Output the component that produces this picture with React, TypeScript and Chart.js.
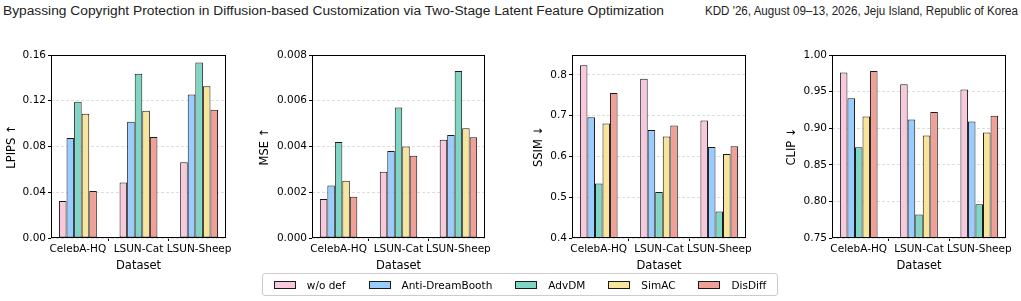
import React, { useEffect, useRef } from "react";
import { Chart, registerables } from "chart.js";

Chart.register(...registerables);

// ---------------- data ----------------
const CATEGORIES = ["CelebA-HQ", "LSUN-Cat", "LSUN-Sheep"];
const METHODS = ["w/o def", "Anti-DreamBooth", "AdvDM", "SimAC", "DisDiff"];
const METHOD_COLORS = ["#F8C8DC", "#99CCFF", "#80D6C4", "#F7E59B", "#F0A096"];

const LPIPS_WO = [0.0324, 0.0485, 0.0663];
const LPIPS_ANTI = [0.0874, 0.1017, 0.1254];
const LPIPS_ADV = [0.1192, 0.1437, 0.1534];
const LPIPS_SIMAC = [0.1086, 0.1112, 0.1327];
const LPIPS_DISDIFF = [0.0412, 0.0883, 0.1122];

const MSE_WO = [0.0017, 0.0029, 0.0043];
const MSE_ANTI = [0.0023, 0.0038, 0.0045];
const MSE_ADV = [0.0042, 0.0057, 0.0073];
const MSE_SIMAC = [0.0025, 0.004, 0.0048];
const MSE_DISDIFF = [0.0018, 0.0036, 0.0044];

const SSIM_WO = [0.824, 0.791, 0.688];
const SSIM_ANTI = [0.696, 0.665, 0.623];
const SSIM_ADV = [0.534, 0.513, 0.465];
const SSIM_SIMAC = [0.681, 0.649, 0.606];
const SSIM_DISDIFF = [0.756, 0.676, 0.625];

const CLIP_WO = [0.976, 0.96, 0.953];
const CLIP_ANTI = [0.941, 0.912, 0.909];
const CLIP_ADV = [0.874, 0.782, 0.796];
const CLIP_SIMAC = [0.916, 0.89, 0.894];
const CLIP_DISDIFF = [0.978, 0.922, 0.917];

const LPIPS_TICKS = [0, 0.04, 0.08, 0.12, 0.16];
const MSE_TICKS = [0, 0.002, 0.004, 0.006, 0.008];
const SSIM_TICKS = [0.4, 0.5, 0.6, 0.7, 0.8];
const CLIP_TICKS = [0.75, 0.8, 0.85, 0.9, 0.95, 1.0];

const LPIPS_RANGE = [0, 0.16];
const MSE_RANGE = [0, 0.008];
const SSIM_RANGE = [0.4, 0.849];
const CLIP_RANGE = [0.75, 1.0];

const X_AXIS_TITLE = "Dataset";
const HEADER_LEFT =
  "Bypassing Copyright Protection in Diffusion-based Customization via Two-Stage Latent Feature Optimization";
const HEADER_RIGHT = "KDD '26, August 09\u201313, 2026, Jeju Island, Republic of Korea";

const PANELS = [
  { title: "LPIPS \u2191", series: [LPIPS_WO, LPIPS_ANTI, LPIPS_ADV, LPIPS_SIMAC, LPIPS_DISDIFF], ticks: LPIPS_TICKS, range: LPIPS_RANGE, decimals: 2 },
  { title: "MSE \u2191", series: [MSE_WO, MSE_ANTI, MSE_ADV, MSE_SIMAC, MSE_DISDIFF], ticks: MSE_TICKS, range: MSE_RANGE, decimals: 3 },
  { title: "SSIM \u2193", series: [SSIM_WO, SSIM_ANTI, SSIM_ADV, SSIM_SIMAC, SSIM_DISDIFF], ticks: SSIM_TICKS, range: SSIM_RANGE, decimals: 1 },
  { title: "CLIP \u2193", series: [CLIP_WO, CLIP_ANTI, CLIP_ADV, CLIP_SIMAC, CLIP_DISDIFF], ticks: CLIP_TICKS, range: CLIP_RANGE, decimals: 2 },
];

// ---------------- layout ----------------
const FONT = "DejaVu Sans";
const PANEL_LAYOUT = [
  { titleX: 12, left: 51, right: 226 },
  { titleX: 265, left: 312, right: 485 },
  { titleX: 539, left: 572, right: 746 },
  { titleX: 792, left: 832, right: 1006 },
];
const CANVAS_TOP = 45;
const CANVAS_H = 230;
const PLOT_TOP = 55;
const PLOT_BOTTOM = 238;
const PAD_RIGHT = 10;
const PAD_BOTTOM = 2;
const TITLE_SIZE = 11.5;
const TICK_SIZE = 10.5;
const X_MIN = -0.44375;
const X_MAX = 2.44375;

const framePlugin = {
  id: "frame",
  afterDatasetsDraw(chart: any) {
    const { ctx, chartArea } = chart;
    ctx.save();
    ctx.strokeStyle = "#000";
    ctx.lineWidth = 1;
    ctx.strokeRect(
      Math.round(chartArea.left) + 0.5,
      Math.round(chartArea.top) + 0.5,
      Math.round(chartArea.right - chartArea.left) - 1,
      Math.round(chartArea.bottom - chartArea.top) - 1
    );
    ctx.restore();
  },
};

function Panel({ index }: { index: number }) {
  const ref = useRef<HTMLCanvasElement | null>(null);
  const panel = PANELS[index];
  const lay = PANEL_LAYOUT[index];
  const lineH = TITLE_SIZE * 1.2;
  const canvasLeft = Math.floor(lay.titleX - 9);
  const padLeft = lay.titleX - lineH / 2 - canvasLeft;
  const yWidth = lay.left - (canvasLeft + padLeft);
  const canvasW = lay.right + PAD_RIGHT - canvasLeft;
  const xHeight = CANVAS_TOP + CANVAS_H - PAD_BOTTOM - PLOT_BOTTOM;

  useEffect(() => {
    if (!ref.current) return;
    const chart = new Chart(ref.current, {
      type: "bar",
      data: {
        datasets: panel.series.map((vals, si) => ({
          label: METHODS[si],
          data: vals.map((v, i) => ({ x: i, y: v })),
          backgroundColor: METHOD_COLORS[si],
          borderColor: "#1a1a1a",
          borderWidth: 1,
          borderSkipped: false,
          categoryPercentage: 0.625,
          barPercentage: 1,
        })),
      },
      options: {
        animation: false,
        responsive: false,
        maintainAspectRatio: false,
        events: [],
        layout: {
          padding: { left: padLeft, right: PAD_RIGHT, top: PLOT_TOP - CANVAS_TOP, bottom: PAD_BOTTOM },
        },
        plugins: { legend: { display: false }, tooltip: { enabled: false } },
        scales: {
          x: {
            type: "linear",
            min: X_MIN,
            max: X_MAX,
            offset: false,
            afterBuildTicks: (s: any) => {
              s.ticks = CATEGORIES.map((_, i) => ({ value: i }));
            },
            afterFit: (s: any) => {
              s.height = xHeight;
            },
            ticks: {
              autoSkip: false,
              maxRotation: 0,
              minRotation: 0,
              padding: 2,
              color: "#000",
              font: { family: FONT, size: TICK_SIZE },
              callback: (v: any) => CATEGORIES[Math.round(Number(v))] ?? "",
            },
            grid: { drawOnChartArea: false, drawTicks: true, tickLength: 3, tickColor: "#000", tickWidth: 1 },
            border: { display: false },
            title: {
              display: true,
              text: X_AXIS_TITLE,
              color: "#000",
              padding: 0,
              font: { family: FONT, size: TITLE_SIZE },
            },
          },
          y: {
            type: "linear",
            min: panel.range[0],
            max: panel.range[1],
            afterBuildTicks: (s: any) => {
              s.ticks = panel.ticks.map((v) => ({ value: v }));
            },
            afterFit: (s: any) => {
              s.width = yWidth;
            },
            ticks: {
              padding: 2,
              color: "#000",
              font: { family: FONT, size: TICK_SIZE },
              callback: (v: any) => Number(v).toFixed(panel.decimals),
            },
            grid: {
              color: "#d6d6d6",
              lineWidth: 0.8,
              drawTicks: true,
              tickLength: 3,
              tickColor: "#000",
              tickWidth: 1,
              tickBorderDash: [],
            },
            border: { display: false, dash: [3, 2] },
            title: {
              display: true,
              text: panel.title,
              color: "#000",
              padding: 0,
              font: { family: FONT, size: TITLE_SIZE },
            },
          },
        },
      } as any,
      plugins: [framePlugin],
    });
    return () => chart.destroy();
  }, []);

  return (
    <canvas
      ref={ref}
      width={canvasW}
      height={CANVAS_H}
      style={{ position: "absolute", left: canvasLeft, top: CANVAS_TOP, width: canvasW, height: CANVAS_H }}
    />
  );
}

export default function App() {
  return (
    <div
      style={{
        position: "absolute",
        left: 0,
        top: 0,
        width: 1021,
        height: 301,
        background: "#fff",
        overflow: "hidden",
      }}
    >
      <svg width={1021} height={24} style={{ position: "absolute", left: 0, top: 0 }}>
        <text
          x={3}
          y={15}
          fontFamily="'Liberation Sans Narrow', 'Liberation Sans', sans-serif"
          fontSize={12}
          fill="#222"
          textLength={661}
          lengthAdjust="spacingAndGlyphs"
        >
          {HEADER_LEFT}
        </text>
        <text
          x={705}
          y={15}
          fontFamily="'Liberation Sans Narrow', 'Liberation Sans', sans-serif"
          fontSize={12}
          fill="#222"
          textLength={313}
          lengthAdjust="spacingAndGlyphs"
        >
          {HEADER_RIGHT}
        </text>
      </svg>
      {PANELS.map((_, i) => (
        <Panel key={i} index={i} />
      ))}
      <div
        style={{
          position: "absolute",
          left: 262,
          top: 273,
          width: 516,
          height: 23,
          boxSizing: "border-box",
          border: "1px solid #cccccc",
          borderRadius: 3,
          display: "flex",
          alignItems: "center",
          justifyContent: "center",
          fontFamily: FONT,
          fontSize: TICK_SIZE,
          color: "#000",
          whiteSpace: "nowrap",
        }}
      >
        {METHODS.map((m, i) => (
          <div
            key={m}
            style={{ display: "flex", alignItems: "center", marginRight: i < METHODS.length - 1 ? 23 : 0 }}
          >
            <span
              style={{
                display: "inline-block",
                width: 22,
                height: 8,
                boxSizing: "border-box",
                border: "1px solid #1a1a1a",
                background: METHOD_COLORS[i],
                marginRight: 11,
              }}
            />
            <span>{m}</span>
          </div>
        ))}
      </div>
    </div>
  );
}
